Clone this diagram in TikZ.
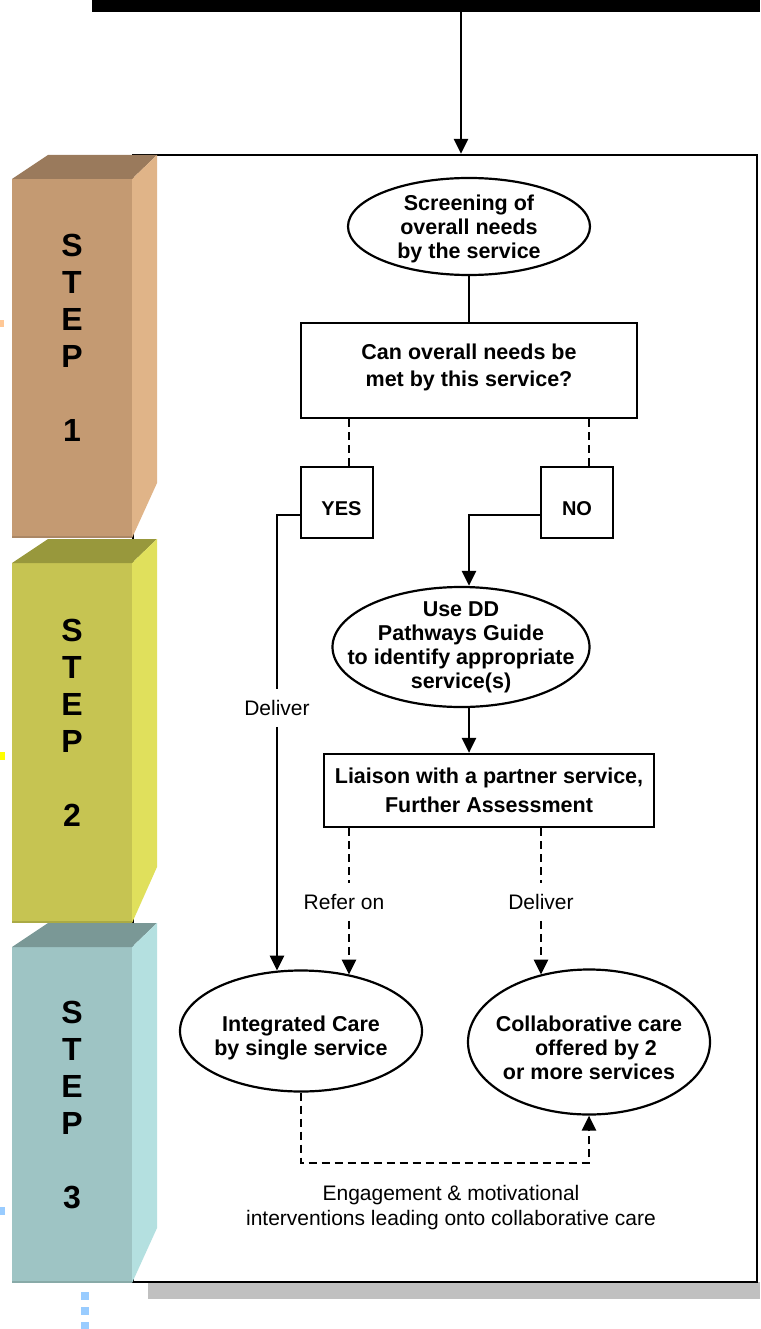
\documentclass[tikz,border=0pt]{standalone}
\usepackage{fontspec}
\setmainfont{Liberation Sans}
\usetikzlibrary{shapes.geometric,arrows.meta}
\definecolor{sonefront}{RGB}{196,154,114}
\definecolor{sonetop}{RGB}{154,122,92}
\definecolor{soneside}{RGB}{224,180,136}
\definecolor{stwofront}{RGB}{198,196,82}
\definecolor{stwotop}{RGB}{152,152,60}
\definecolor{stwoside}{RGB}{224,224,92}
\definecolor{sthreefront}{RGB}{158,196,196}
\definecolor{sthreetop}{RGB}{122,152,150}
\definecolor{sthreeside}{RGB}{180,224,224}
\definecolor{shadegray}{RGB}{192,192,192}
\definecolor{mkorange}{RGB}{255,200,150}
\definecolor{mkyellow}{RGB}{255,255,0}
\definecolor{mkblue}{RGB}{153,204,255}
\begin{document}
\begin{tikzpicture}[x=1pt,y=-1pt,
  tip/.style={-{Triangle[length=15pt,width=14pt]}},
  conn/.style={line width=2.7pt, tip},
  plain/.style={line width=2.7pt},
  dconn/.style={line width=2.5pt, dash pattern=on 8pt off 5pt, tip},
  dplain/.style={line width=2.5pt, dash pattern=on 8pt off 5pt},
  oval/.style={ellipse, draw, line width=2.2pt, inner sep=-25pt, align=center,
    font=\fontsize{21.5pt}{24pt}\selectfont\bfseries},
  flowbox/.style={rectangle, draw, line width=2.2pt, inner sep=0pt, align=center,
    font=\fontsize{21.5pt}{27pt}\selectfont\bfseries},
  ynbox/.style={rectangle, draw, line width=2.2pt, inner sep=0pt,
    minimum width=72pt, minimum height=71pt, text height=26pt, text depth=0pt,
    font=\fontsize{20pt}{24pt}\selectfont\bfseries},
  lbl/.style={font=\fontsize{21pt}{25pt}\selectfont, align=center, inner xsep=2pt, inner ysep=11pt},
  steptext/.style={font=\fontsize{32pt}{37pt}\selectfont\bfseries, align=center, inner sep=0pt},
]
\useasboundingbox (0,0) rectangle (760,1329);

% frame with shadow
\fill[shadegray] (148,1282) rectangle (760,1299);
\node[draw, line width=2.2pt, fill=white, inner sep=0pt,
      minimum width=624pt, minimum height=1127pt] (frame) at (445,718.5) {};

% top bar
\node[fill=black, inner sep=0pt, minimum width=668pt, minimum height=12pt] (bar) at (426,6) {};

% step boxes
\fill[sonefront] (12,179) rectangle (132,538);
\fill[sonetop] (12,179) -- (48,155) -- (157,155) -- (132,179) -- cycle;
\fill[soneside] (132,179) -- (157,155) -- (157,483) -- (132,538) -- cycle;
\draw[sonetop!60!sonefront, line width=1.5pt] (12,537) -- (132,537);
\node[steptext] (stepone) at (72,338) {S\\T\\E\\P\\[37pt]1};

\fill[stwofront] (12,563) rectangle (132,923);
\fill[stwotop] (12,563) -- (48,539) -- (157,539) -- (132,563) -- cycle;
\fill[stwoside] (132,563) -- (157,539) -- (157,867) -- (132,923) -- cycle;
\draw[stwotop!60!stwofront, line width=1.5pt] (12,922) -- (132,922);
\node[steptext] (steptwo) at (72,722.5) {S\\T\\E\\P\\[37pt]2};

\fill[sthreefront] (12,947) rectangle (132,1283);
\fill[sthreetop] (12,947) -- (48,923) -- (157,923) -- (132,947) -- cycle;
\fill[sthreeside] (132,947) -- (157,923) -- (157,1228) -- (132,1283) -- cycle;
\draw[sthreetop!60!sthreefront, line width=1.5pt] (12,1282) -- (132,1282);
\node[steptext] (stepthree) at (72,1105) {S\\T\\E\\P\\[37pt]3};

% small markers on the left
\fill[mkorange] (0,320) rectangle (4,327);
\fill[mkyellow] (0,752) rectangle (5,760);
\fill[mkblue] (0,1207) rectangle (5,1215);
\foreach \yy in {1292,1307,1322} \fill[mkblue] (81,\yy) rectangle (89,\yy+8);

% flow nodes
\node[oval, minimum width=242pt, minimum height=97pt] (screen) at (469,226.5)
  {\rule{0pt}{21pt}Screening of\\overall needs\\ by the service};
\node[flowbox, minimum width=336pt, minimum height=95pt] (can) at (469,370.5)
  {Can overall needs be\\met by this service?\rule[-10pt]{0pt}{10pt}};
\node[ynbox] (yes) at (337,502.5) {\hspace{9pt}YES};
\node[ynbox] (no) at (577,502.5) {NO};
\node[oval, minimum width=257pt, minimum height=120pt] (usedd) at (461,647)
  {Use DD\\Pathways Guide\\to identify appropriate\\service(s)};
\node[flowbox, font=\fontsize{21.5pt}{28.5pt}\selectfont\bfseries,
      minimum width=330pt, minimum height=73pt] (liaison) at (489,790.5)
  {Liaison with a partner service,\\Further Assessment};
\node[oval, minimum width=242pt, minimum height=121pt] (integ) at (301,1031)
  {\rule{0pt}{29pt}Integrated Care\\by single service};
\node[oval, minimum width=242pt, minimum height=145pt] (collab) at (589,1042)
  {\rule{0pt}{28pt}Collaborative care\\\hspace{14pt}offered by 2\\or more services};

% labels
\node[lbl] (delone) at (277,708) {Deliver};
\node[lbl] (refer) at (344,902) {Refer on};
\node[lbl] (deltwo) at (541,902) {Deliver};
\node[lbl, inner ysep=2pt] (engage) at (451,1208)
  {Engagement \& motivational\\interventions leading onto collaborative care};

% helper coordinates
\coordinate (topx) at (461,0);
\coordinate (yx) at (349,0);
\coordinate (nx) at (589,0);
\coordinate (nax) at (469,0);
\coordinate (rx) at (349,0);
\coordinate (eb) at (301,1163);

% connectors
\draw[conn] (bar.south -| topx) -- (frame.north -| topx);
\draw[plain] (screen) -- (can);
\draw[dplain] (can.south -| yx) -- (yes.north -| yx);
\draw[dplain] (can.south -| nx) -- (no.north -| nx);
\draw[plain] ([yshift=-12.5pt]yes.west) -| (delone.north);
\draw[conn] (delone.south) -- (integ.112 -| delone);
\draw[conn] ([yshift=-12.5pt]no.west) -| (usedd.north -| nax);
\draw[conn] (usedd.south -| nax) -- (liaison.north -| nax);
\draw[dplain] (liaison.south -| rx) -- (refer.north -| rx);
\draw[dconn] (refer.south -| rx) -- (integ.49 -| rx);
\draw[dplain] (liaison.south -| deltwo) -- (deltwo.north);
\draw[dconn] (deltwo.south) -- (collab.126 -| deltwo);
\draw[dconn] (integ.south) -- (integ.south |- eb) -| (collab.south);
\end{tikzpicture}
\end{document}
